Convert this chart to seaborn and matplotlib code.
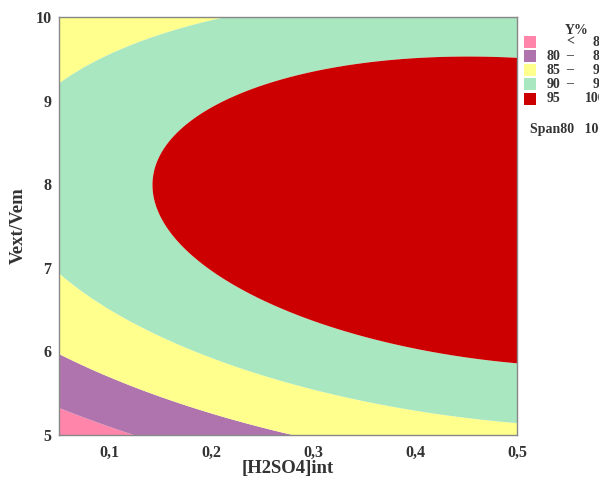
# -*- coding: utf-8 -*-
"""Response surface contour: Y% vs [H2SO4]int and Vext/Vem"""
import numpy as np
import seaborn as sns
import matplotlib
matplotlib.use("Agg")
import matplotlib.pyplot as plt
from matplotlib.patches import Rectangle

# ========================
# data
# ========================
x_range = [0.05, 0.5]      # [H2SO4]int
v_range = [5.0, 10.0]      # Vext/Vem
# fitted quadratic model Y = b0 + b1*x + b2*v + b11*x^2 + b22*v^2 + b12*x*v
b0, b1, b2 = -15.11, 61.52, 25.96
b11, b22, b12 = -39.17, -1.60, -2.739

levels = [0, 80, 85, 90, 95, 110]
band_colors = ["#FF85AA", "#AF74AD", "#FFFF8E", "#A8E7BF", "#CC0000"]
legend_lo = ["", "80", "85", "90", "95"]
legend_mid = ["<", "\u2013", "\u2013", "\u2013", ""]
legend_hi = ["80", "85", "90", "95", "100"]

x_ticks = [0.1, 0.2, 0.3, 0.4, 0.5]
x_ticklabels = ["0,1", "0,2", "0,3", "0,4", "0,5"]
y_ticks = [5, 6, 7, 8, 9, 10]

# ========================
# style
# ========================
sns.set_style("white")
plt.rcParams['font.family'] = ['Liberation Serif', 'DejaVu Serif']
txt_color = "#333333"
ax_color = "#888888"

fig = plt.figure(figsize=(5.99, 4.79), dpi=100)
ax = fig.add_axes([59 / 599, 1 - 435 / 479, (517 - 59) / 599, (435 - 17) / 479])

xx, vv = np.meshgrid(np.linspace(x_range[0], x_range[1], 400),
                     np.linspace(v_range[0], v_range[1], 400))
yy = b0 + b1 * xx + b2 * vv + b11 * xx ** 2 + b22 * vv ** 2 + b12 * xx * vv
ax.contourf(xx, vv, yy, levels=levels, colors=band_colors, antialiased=True)

ax.set_xlim(x_range)
ax.set_ylim(v_range)
ax.set_xticks(x_ticks)
ax.set_xticklabels(x_ticklabels)
ax.set_yticks(y_ticks)

for s in ax.spines.values():
    s.set_color(ax_color)
    s.set_linewidth(1.0)
ax.tick_params(axis='both', direction='out', width=1, color=ax_color,
               labelsize=11.5, labelcolor=txt_color)
ax.tick_params(axis='x', pad=3, length=4)
ax.tick_params(axis='y', pad=1.5, length=4)
for lab in ax.get_xticklabels() + ax.get_yticklabels():
    lab.set_fontweight('bold')

ax.set_xlabel("[H2SO4]int", fontsize=13.5, fontweight='bold', color=txt_color)
ax.set_ylabel("Vext/Vem", fontsize=13.5, fontweight='bold', color=txt_color)
ax.xaxis.set_label_coords(0.5, (435 - 469) / 418)
ax.xaxis.label.set_verticalalignment('center')
ax.yaxis.set_label_coords((18 - 59) / 458, 0.5)
ax.yaxis.label.set_verticalalignment('center')

# ========================
# legend (hand placed, cut at figure edge like the original)
# ========================
W, H = 599, 479
fig.text(565 / W, 1 - 30 / H, "Y%", fontsize=10, fontweight='bold', color=txt_color,
         ha='left', va='center')
row_y = [42, 56, 70, 84, 99]
for i in range(len(band_colors)):
    y = 1 - row_y[i] / H
    fig.patches.append(Rectangle((524 / W, y - 6 / H), 12 / W, 12 / H,
                                 transform=fig.transFigure, facecolor=band_colors[i],
                                 edgecolor='none'))
    fig.text(560 / W, y, legend_lo[i], fontsize=10, fontweight='bold', color=txt_color,
             ha='right', va='center')
    fig.text(570 / W, y, legend_mid[i], fontsize=10, fontweight='bold', color=txt_color,
             ha='center', va='center')
    fig.text(606 / W, y, legend_hi[i], fontsize=10, fontweight='bold', color=txt_color,
             ha='right', va='center')
fig.text(530 / W, 1 - 129 / H, "Span80   100", fontsize=10, fontweight='bold',
         color=txt_color, ha='left', va='center')

fig.savefig("out.png", dpi=100, facecolor='white')
plt.close(fig)
